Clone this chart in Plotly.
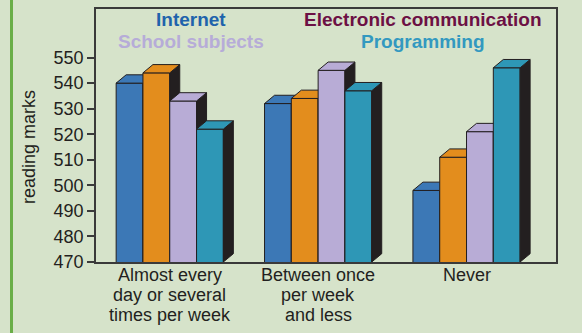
import plotly.graph_objects as go

# --- data -------------------------------------------------------------
categories = ["Almost every<br>day or several<br>times per week",
              "Between once<br>per week<br>and less",
              "Never"]
series_names = ["Internet", "Electronic communication", "School subjects", "Programming"]
internet = [540, 532, 498]
electronic_communication = [544, 534, 511]
school_subjects = [533, 545, 521]
programming = [522, 537, 546]
y_tick_values = [470, 480, 490, 500, 510, 520, 530, 540, 550]

series_values = [internet, electronic_communication, school_subjects, programming]

# --- styling ----------------------------------------------------------
bar_colors = ["#3c78b6", "#e38d1d", "#b8acd6", "#2e97b6"]
label_colors = ["#1f63ac", "#6c1044", "#b6acd8", "#3399c0"]
SIDE = "#231f20"
EDGE = "#231f20"
TEXT = "#231f20"
BG = "#d6e3ca"
FONT = "Liberation Sans, Arial, sans-serif"

W, H = 582, 333
ML, MR, MT, MB = 96, 26, 9, 71
PW, PH = W - ML - MR, H - MT - MB

X_RANGE = [-0.497, 2.603]
Y_RANGE = [470, 569]
BASE = Y_RANGE[0]

bar_w = 0.1806                      # width of one bar (x units)
depth_px_x, depth_px_y = 10, 8.3    # 3-D extrusion in pixels
dx = depth_px_x * (X_RANGE[1] - X_RANGE[0]) / PW
dy = depth_px_y * (Y_RANGE[1] - Y_RANGE[0]) / PH

x_pos = list(range(len(categories)))

fig = go.Figure()

for k, (name, vals, col) in enumerate(zip(series_names, series_values, bar_colors)):
    xa = "x" if k == 0 else f"x{k + 1}"
    offset = (k - 2) * bar_w
    # front faces
    fig.add_trace(go.Bar(
        x=x_pos, y=vals, width=bar_w, offset=offset,
        marker=dict(color=col, line=dict(color=EDGE, width=1)),
        name=name, showlegend=False, xaxis=xa, yaxis="y",
    ))
    # top and side faces of the extruded bars
    tx, ty, sx, sy = [], [], [], []
    for xc, v in zip(x_pos, vals):
        xl = xc + offset
        xr = xl + bar_w
        tx += [xl, xl + dx, xr + dx, xr, xl, None]
        ty += [v, v + dy, v + dy, v, v, None]
        sx += [xr, xr + dx, xr + dx, xr, xr, None]
        sy += [BASE, BASE + dy, v + dy, v, BASE, None]
    fig.add_trace(go.Scatter(
        x=sx, y=sy, mode="lines", fill="toself", fillcolor=SIDE,
        line=dict(color=EDGE, width=1), hoverinfo="skip",
        showlegend=False, xaxis=xa, yaxis="y",
    ))
    fig.add_trace(go.Scatter(
        x=tx, y=ty, mode="lines", fill="toself", fillcolor=col,
        line=dict(color=EDGE, width=1), hoverinfo="skip",
        showlegend=False, xaxis=xa, yaxis="y",
    ))

axis_line = dict(showline=True, linecolor="#3a3a3a", linewidth=1.5, mirror=True,
                 showgrid=False, zeroline=False, automargin=False)

layout = dict(
    width=W, height=H,
    margin=dict(l=ML, r=MR, t=MT, b=MB, pad=0),
    paper_bgcolor=BG, plot_bgcolor=BG,
    font=dict(family=FONT, size=18, color=TEXT),
    barmode="overlay",
    xaxis=dict(range=X_RANGE, tickvals=x_pos, showticklabels=False, ticks="",
               **axis_line),
    yaxis=dict(range=Y_RANGE, tickvals=y_tick_values, ticks="outside", ticklen=7,
               tickcolor="#3a3a3a", tickwidth=1.5,
               tickfont=dict(size=18, color=TEXT), **axis_line),
)
for k in range(1, len(series_names)):
    layout[f"xaxis{k + 1}"] = dict(overlaying="x", range=X_RANGE, visible=False)

fig.update_layout(**layout)

def px_x(px):
    return (px - ML) / PW

def px_y(py):
    return (H - MB - py) / PH

# category labels under the axis, one line at a time for tight leading
for xc, cat in zip(x_pos, categories):
    for i, line in enumerate(cat.split("<br>")):
        fig.add_annotation(x=xc, y=px_y(275 + 20 * i), xref="x", yref="paper",
                           text=line, showarrow=False,
                           xanchor="center", yanchor="middle",
                           font=dict(family=FONT, size=18, color=TEXT))

# series labels above the bars
label_pos = [(190.5, 20), (423.3, 20), (190.5, 41), (423.3, 41)]
for name, col, (lx, ly) in zip(series_names, label_colors, label_pos):
    fig.add_annotation(x=px_x(lx), y=px_y(ly), xref="paper", yref="paper",
                       text=f"<b>{name}</b>", showarrow=False,
                       xanchor="center", yanchor="middle",
                       font=dict(family=FONT, size=19, color=col))

# axis title
fig.add_annotation(x=px_x(29), y=px_y(147), xref="paper", yref="paper",
                   text="reading marks", textangle=-90, showarrow=False,
                   xanchor="center", yanchor="middle",
                   font=dict(family=FONT, size=18, color=TEXT))

# green rule down the left edge
fig.add_shape(type="line", xref="paper", yref="paper",
              x0=px_x(11.5), x1=px_x(11.5), y0=px_y(H + 5), y1=px_y(-5),
              line=dict(color="#6aae48", width=3))

fig.write_html("out.html")
